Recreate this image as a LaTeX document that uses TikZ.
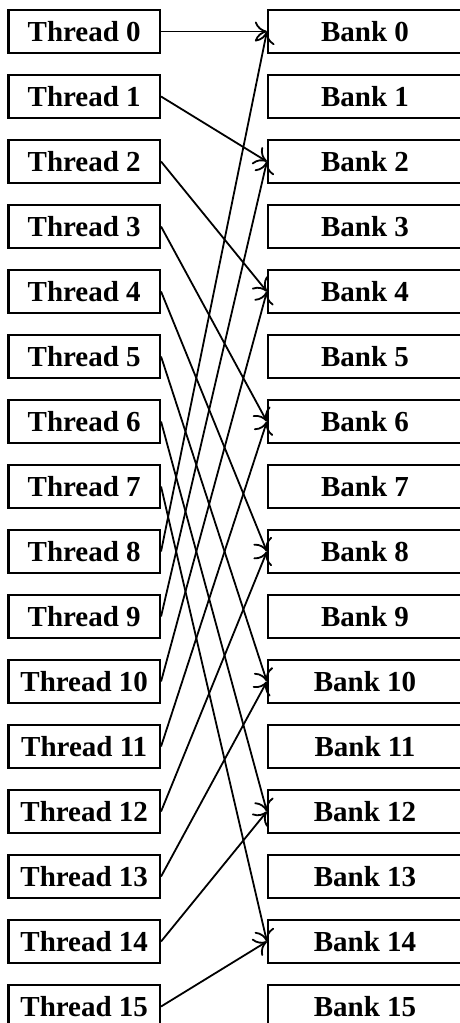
\documentclass[tikz,border=0pt]{standalone}
\usepackage{fontspec}
\setmainfont{Liberation Serif}
\usetikzlibrary{arrows.meta}

\begin{document}
\begin{tikzpicture}[x=1pt, y=1pt,
    box/.style={draw, line width=1.1pt, inner sep=0pt, minimum height=21.5pt,
        font=\bfseries\fontsize{14.5}{17}\selectfont},
    thread/.style={box, minimum width=75.75pt},
    bank/.style={box, minimum width=97pt},
    >={To[length=6pt, width=10pt]}]
    \useasboundingbox ( 0, 0 ) rectangle ( 230, -511.5 );

    % потоки и банки
    \foreach \i in {0,...,15} {
        \node [thread] (t\i) at ( 42.1, {-15.75-32.5*\i} ) {Thread \i};
        \node [bank] (b\i) at ( 182.5, {-15.75-32.5*\i} ) {Bank \i};
    }

    % стрелки
    \foreach \i in {0,...,15} {
        \pgfmathtruncatemacro{\bnk}{mod(2*\i,16)}
        \draw [->, line width=0.9pt] (t\i.east) -- (b\bnk.west);
    }
\end{tikzpicture}
\end{document}
